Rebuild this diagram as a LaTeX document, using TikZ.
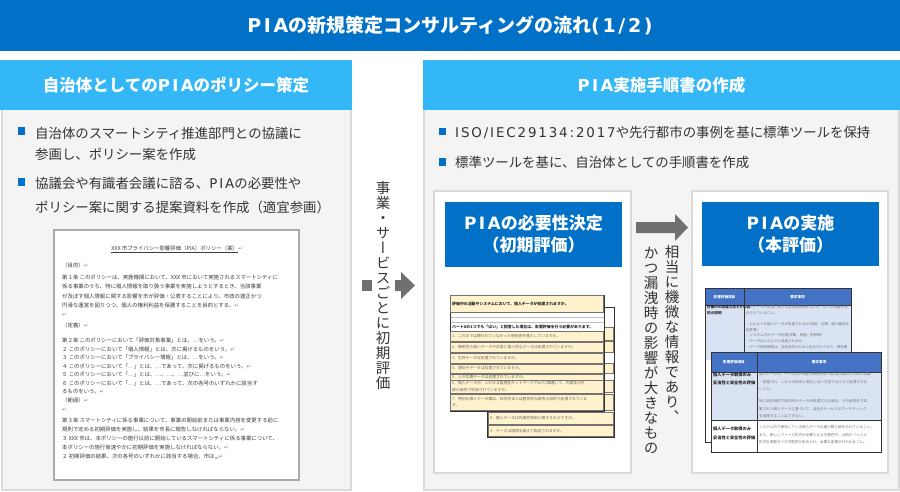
\documentclass[tikz,border=0pt]{standalone}
\usepackage{fontspec}
\setmainfont{Noto Sans CJK JP}
\newfontfamily\jpv[RawFeature=+vert]{Noto Sans CJK JP}
\newfontfamily\latfont[LetterSpace=14]{DejaVu Sans}
\newfontfamily\dvs{DejaVu Sans}
\newcommand{\lat}[1]{{\latfont #1}}
\definecolor{titleblue}{RGB}{0,113,198}
\definecolor{hdrblue}{RGB}{52,183,246}
\definecolor{panelgray}{RGB}{244,244,244}
\definecolor{bordergray}{RGB}{218,218,218}
\definecolor{txtdark}{RGB}{51,51,51}
\definecolor{arrowgray}{RGB}{112,112,112}
\definecolor{docborder}{RGB}{170,170,170}
\definecolor{doctext}{RGB}{60,60,60}
\definecolor{cellyellow}{RGB}{255,242,204}
\definecolor{xlblue}{RGB}{68,114,196}
\definecolor{xllight}{RGB}{218,227,243}
\definecolor{retblue}{RGB}{120,130,160}
\newcommand{\rt}{{\dvs\color{retblue}↵}}
\begin{document}
\begin{tikzpicture}[x=1pt,y=-1pt,
  titletext/.style={text=white,inner sep=0,font=\fontsize{19}{22}\selectfont\bfseries},
  hdrtext/.style={text=white,inner sep=0,font=\fontsize{16.5}{20}\selectfont\bfseries},
  panel/.style={fill=panelgray,draw=bordergray,line width=2pt},
  innerbox/.style={fill=white,draw=bordergray,line width=2pt,inner sep=0},
  bulsq/.style={fill=titleblue,inner sep=0,minimum size=7.2pt},
  bultext/.style={anchor=west,inner sep=0,text=txtdark,font=\fontsize{13.4}{16}\selectfont},
  vtext/.style={anchor=north,inner sep=0,align=center,text=txtdark,font=\jpv\fontsize{14.5}{15}\selectfont},
  bluebox/.style={fill=titleblue,inner sep=0,align=center,text=white,font=\fontsize{17}{22}\selectfont\bfseries},
  docbox/.style={fill=white,draw=docborder,line width=2pt},
  doctxt/.style={anchor=west,inner sep=0,text=doctext,font=\fontsize{5.4}{6}\selectfont},
  sheetbox/.style={fill=white,draw=black!80,line width=0.9pt},
  ycell/.style={fill=cellyellow,draw=black!55,line width=0.6pt},
  shb/.style={anchor=west,inner sep=0,text=black!85,font=\fontsize{3.9}{4.6}\selectfont\bfseries},
  sht/.style={anchor=west,inner sep=0,text=black!60,font=\fontsize{3.8}{4.6}\selectfont},
  xhd/.style={inner sep=0,text=white,font=\fontsize{3.6}{4.2}\selectfont\bfseries},
  xlb/.style={anchor=north west,inner sep=0,align=left,text=black!85,font=\fontsize{4.2}{8.5}\selectfont\bfseries},
  xrt/.style={anchor=north west,inner sep=0,align=left,text=black!55,font=\fontsize{3.6}{7.6}\selectfont},
  xrs/.style={anchor=north west,inner sep=0,align=left,text=black!55,font=\fontsize{3.5}{5.9}\selectfont},
  arrowfill/.style={fill=arrowgray}
]
\fill[white] (0,0) rectangle (900,492);
\useasboundingbox (0,0) rectangle (900,492);

% title
\fill[titleblue] (0,0) rectangle (900,51);
\node[titletext] (title) at (450,25.5) {\lat{PIA}の新規策定コンサルティングの流れ\lat{(1/2)}};

% panels
\draw[panel] (2,100) rectangle (351,490);
\fill[hdrblue] (0,60) rectangle (352,110);
\node[hdrtext] (lhdr) at (176,85) {自治体としての\lat{PIA}のポリシー策定};

\draw[panel] (424,100) rectangle (899,490);
\fill[hdrblue] (423,60) rectangle (900,110);
\node[hdrtext] (rhdr) at (661.5,85) {\lat{PIA}実施手順書の作成};

% left bullets
\node[bulsq] (lb1) at (21.5,131) {};
\node[bultext] (lt1) at (35,133) {自治体のスマートシティ推進部門との協議に};
\node[bultext] (lt2) at (35,154) {参画し、ポリシー案を作成};
\node[bulsq] (lb2) at (21.5,182) {};
\node[bultext] (lt3) at (35,183) {協議会や有識者会議に諮る、\lat{PIA}の必要性や};
\node[bultext] (lt4) at (35,207.5) {ポリシー案に関する提案資料を作成（適宜参画）};

% right bullets
\node[bulsq] (rb1) at (442.5,131.5) {};
\node[bultext] (rt1) at (455,132) {\lat{ISO/IEC29134:2017}や先行都市の事例を基に標準ツールを保持};
\node[bulsq] (rb2) at (442.5,162) {};
\node[bultext] (rt2) at (455,162.5) {標準ツールを基に、自治体としての手順書を作成};

% policy document image
\draw[docbox] (54,230) rectangle (299,480);
\node[doctxt,anchor=center] (d0) at (177,249) {\underline{XXX 市プライバシー影響評価（PIA）ポリシー（案）}\rt};
\node[doctxt] (d1) at (62,265) {（目的）\rt};
\node[doctxt] (d2) at (62,277) {第１条 このポリシーは、実施機関において、XXX 市において実施されるスマートシティに};
\node[doctxt] (d3) at (62,286.5) {係る事業のうち、特に個人情報を取り扱う事業を実施しようとするとき、当該事業};
\node[doctxt] (d4) at (62,296) {が及ぼす個人情報に関する影響を市が評価・公表することにより、市政の適正かつ};
\node[doctxt] (d5) at (62,305.5) {円滑な運営を図りつつ、個人の権利利益を保護することを目的とする。\rt};
\node[doctxt] (d6) at (62,315) {\rt};
\node[doctxt] (d7) at (62,325) {（定義）\rt};
\node[doctxt] (d8) at (62,340) {第２条 このポリシーにおいて「評価対象事業」とは、…をいう。\rt};
\node[doctxt] (d9) at (62,349) {２ このポリシーにおいて「個人情報」とは、次に掲げるものをいう。\rt};
\node[doctxt] (d10) at (62,357.5) {３ このポリシーにおいて「プライバシー情報」とは、…をいう。\rt};
\node[doctxt] (d11) at (62,366) {４ このポリシーにおいて「…」とは、…であって、次に掲げるものをいう。\rt};
\node[doctxt] (d12) at (62,374.5) {５ このポリシーにおいて「…」とは、…、…、…並びに…をいう。\rt};
\node[doctxt] (d13) at (62,383) {６ このポリシーにおいて「…」とは、…であって、次の各号のいずれかに該当す};
\node[doctxt] (d14) at (62,391.5) {るものをいう。\rt};
\node[doctxt] (d15) at (62,400.5) {（範囲）\rt};
\node[doctxt] (d16) at (62,410) {\rt};
\node[doctxt] (d17) at (62,420) {第３条 スマートシティに係る事業について、事業の開始前または事業内容を変更する前に};
\node[doctxt] (d18) at (62,429) {規則で定める初期評価を実施し、結果を市長に報告しなければならない。\rt};
\node[doctxt] (d19) at (62,438.5) {３ XXX 市は、本ポリシーの施行以前に開始しているスマートシティに係る事業について、};
\node[doctxt] (d20) at (62,447.5) {本ポリシーの施行後速やかに初期評価を実施しなければならない。\rt};
\node[doctxt] (d21) at (62,457) {２ 初期評価の結果、次の各号のいずれかに該当する場合、市は,,,\rt};

% middle column: vertical text and arrow
\node[vtext] (mv) at (383,181.5) {事\\業\\・\\サ\\ー\\ビ\\ス\\ご\\と\\に\\初\\期\\評\\価};
\fill[arrowfill] (362,280) rectangle (372,291);
\coordinate (ma1) at (395,285.5);
\coordinate (ma2) at (415,285.5);
\fill[arrowfill] (ma1) ++(0,-5.5) -- ++(6,0) -- ++(0,-8) -- (ma2) -- ++(-14,13.5) -- ++(0,-8) -- ++(-6,0) -- cycle;

% inner boxes
\node[innerbox,minimum width=197pt,minimum height=282pt] (ib1) at (532.5,332) {};
\node[innerbox,minimum width=196pt,minimum height=282pt] (ib2) at (790,332) {};
\node[bluebox,minimum width=177pt,minimum height=65pt] (b1) at (533.5,234.5) {\lat{PIA}の必要性決定\\（初期評価）};
\node[bluebox,minimum width=177pt,minimum height=64pt] (b2) at (790.5,234) {\lat{PIA}の実施\\（本評価）};

% arrow between boxes and its vertical caption
\coordinate (ra1) at (636,227.5);
\coordinate (ra2) at (688,227.5);
\fill[arrowfill] (ra1) ++(0,-5.5) -- ++(39,0) -- ++(0,-8) -- (ra2) -- ++(-13,13.5) -- ++(0,-8) -- ++(-39,0) -- cycle;
\node[vtext] (rv1) at (672,245.5) {相\\当\\に\\機\\微\\な\\情\\報\\で\\あ\\り\\、};
\node[vtext] (rv2) at (651,246.5) {か\\つ\\漏\\洩\\時\\の\\影\\響\\が\\大\\き\\な\\も\\の};

% ---- sheet 1 (back)
\draw[sheetbox] (487,307) rectangle (614,437);
\draw[ycell] (488,327) rectangle (613.5,340);
\draw[ycell] (488,341) rectangle (613.5,352);
\draw[ycell] (488,363) rectangle (613.5,373);
\draw[ycell] (488,380) rectangle (613.5,392);
\draw[ycell] (488,394) rectangle (613.5,410);
\draw[ycell] (488,412) rectangle (613.5,424);
\draw[ycell] (488,425) rectangle (613.5,436.5);
\node[sht] (s1r8) at (490,418) {8．個人データは先進的技術に関するものですか。};
\node[sht] (s1r9) at (490,431) {9．データは国境を越えて転送されますか。};

% ---- sheet 1 (front)
\draw[sheetbox] (450,295) rectangle (604,411);
\draw[ycell] (450.5,295.5) rectangle (603.5,312);
\node[shb] (s1h) at (452,303.5) {評価中の活動やシステムにおいて、個人データが処理されますか。};
\draw[black!25,line width=0.4pt] (450.5,317) -- (603.5,317);
\draw[black!25,line width=0.4pt] (450.5,322) -- (603.5,322);
\node[shb] (s1a) at (452,327) {パートAの1つでも「はい」と回答した場合は、影響評価を行う必要があります。};
\draw[ycell] (450.5,331.5) rectangle (603.5,341.5);
\draw[ycell] (450.5,342) rectangle (603.5,352.5);
\draw[ycell] (450.5,353) rectangle (603.5,363);
\draw[ycell] (450.5,364) rectangle (603.5,373.5);
\draw[ycell] (450.5,374) rectangle (603.5,380);
\draw[ycell] (450.5,380.5) rectangle (603.5,393.5);
\draw[ycell] (450.5,394) rectangle (603.5,410.5);
\node[sht] (s1r1) at (452,336.5) {1．これまでは使われていなかった新技術を導入していますか。};
\node[sht] (s1r2) at (452,347) {2．機密性の高いデータや非常に個人的なデータは処理されていますか。};
\node[sht] (s1r3) at (452,358) {3．生体データは処理されていますか。};
\node[sht] (s1r4) at (452,368.5) {4．遺伝子データは処理されていますか。};
\node[sht] (s1r5) at (452,377) {5．人の位置データは処理されていますか。};
\node[sht] (s1r6a) at (452,383.5) {6．個人データが、いわゆる監視型ネットワークやIoTに関連して、内部及び外};
\node[sht] (s1r6b) at (452,390) {部の目的で利用されていますか。};
\node[sht] (s1r7a) at (452,399) {7．特別な個人データ類は、科学的または歴史的な研究の目的で処理されていま};
\node[sht] (s1r7b) at (452,405.5) {す。};

% ---- sheet 2 (back)
\draw[sheetbox] (705,288) rectangle (851,442);
\fill[xlblue] (705.5,288.5) rectangle (850.5,305);
\fill[xllight] (705.5,305) rectangle (850.5,360);
\draw[black!80,line width=0.6pt] (744,288) -- (744,442);
\draw[black!80,line width=0.6pt] (705,305) -- (851,305);
\node[xhd] (s2bh1) at (724.5,297) {影響評価項目};
\node[xhd] (s2bh2) at (797.5,297) {要求事項};
\node[xlb,font=\fontsize{3.6}{6}\selectfont\bfseries] (s2bl) at (707,305.5) {計画中の処理方法とその目\\的の説明};
\node[xrs] (s2br1) at (746,305) {個人データの処理に関する体系的説明がなされ、以下の項目が明\\示されていること。};
\node[xrs] (s2br2) at (746,322) {・どのような個人データが処理されるか(項目、分類、個人識別可\\能性等)\\・システム内のデータ処理(収集、保管、削除等)\\・データはどのように流通されるか\\・データ保存期間は、法定目的のために定められており、保存期};

% ---- sheet 2 (front)
\draw[sheetbox] (711,352) rectangle (881,452);
\fill[xlblue] (711.5,352.5) rectangle (880.5,372);
\fill[xllight] (711.5,372) rectangle (880.5,420);
\draw[black!80,line width=0.6pt] (757,352) -- (757,452);
\draw[black!80,line width=0.6pt] (711,372) -- (881,372);
\draw[black!80,line width=0.6pt] (711,420) -- (881,420);
\node[xhd] (s2fh1) at (734,362) {影響評価項目};
\node[xhd] (s2fh2) at (819,362) {要求事項};
\node[xlb] (s2fl1) at (713,372.5) {個人データ取得のみ\\妥当性と安全性の評価};
\node[xrt] (s2fr1) at (759,372.5) {個人データが、一つ以上の特定の明示的かつ正当な目的のために収集\\・処理され、これらの目的と両立しない方法ではさらに処理されな\\いこと。};
\node[xrt] (s2fr2) at (759,399.5) {特に統計目的で目的外のデータが処理される場合、その目的外で収\\集された個人データに基づいて、当社のサービスのマーケティング\\を実施することはできない。};
\node[xlb] (s2fl2) at (713,427) {個人データ取得のみ\\妥当性と安全性の評価};
\node[xrt] (s2fr3) at (759,425.5) {システム内で保存している個人データは最小限に留められていること。\\また、新しいファイル形式が必要となる可能性や、以前のファイル\\形式を更新すべき可能性が定められ、必要な変更が行われること。};
\end{tikzpicture}
\end{document}
